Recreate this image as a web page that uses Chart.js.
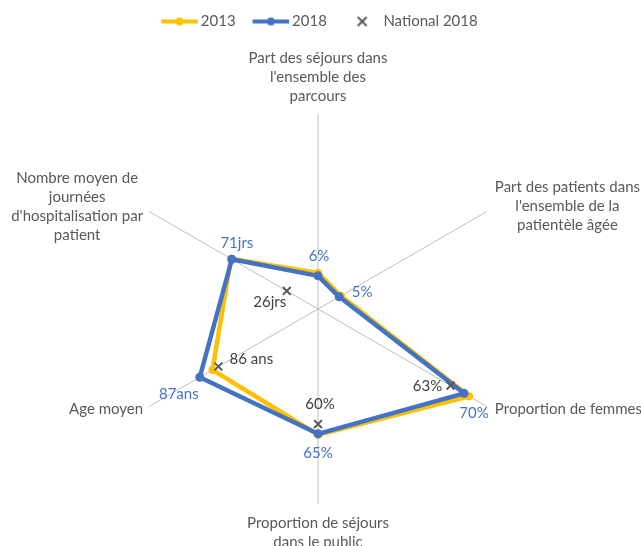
<!DOCTYPE html>
<html lang="fr">
<head>
<meta charset="utf-8">
<title>Radar 2013 / 2018</title>
<script src="https://cdn.jsdelivr.net/npm/chart.js@4.4.1/dist/chart.umd.min.js"></script>
<style>
  html, body { margin: 0; padding: 0; background: #fff; }
  #radarChart { display: block; }
</style>
</head>
<body>
<canvas id="radarChart" width="641" height="546"></canvas>
<script>
// Axes du radar (une entrée par ligne de texte)
var categories = [
    ['Part des séjours dans', "l'ensemble des", 'parcours'],
    ['Part des patients dans', "l'ensemble de la", 'patientèle âgée'],
    ['Proportion de femmes'],
    ['Proportion de séjours', 'dans le public'],
    ['Age moyen'],
    ['Nombre moyen de', 'journées', "d'hospitalisation par", 'patient']
];

// Valeurs ramenées sur une échelle 0-100
var valeurs2013 = [18.5, 13.5, 89.5, 64.5, 62.5, 51.5];
var valeurs2018 = [17, 12.5, 86.5, 64, 70, 51];
var valeursNational2018 = [null, null, 78.5, 59, 59, 18.5];

// Étiquettes affichées à côté des points
var etiquettes2018 = ['6%', '5%', '70%', '65%', '87ans', '71jrs'];
var etiquettesNational2018 = [null, null, '63%', '60%', '86 ans', '26jrs'];

// Décalage (px) de chaque étiquette par rapport à son point
var decalages2018 = [[1, -20], [23, -5], [10, 20], [0, 19], [-21, 17], [5, -16]];
var decalagesNational = [null, null, [-23, 1], [2, -20], [33, -7], [-17, 11]];

var POLICE = 'Lato';
var GRIS_TEXTE = '#595959';

// Petites icônes de légende (trait + point, ou croix)
function creerIcone(type, couleur) {
    var c = document.createElement('canvas');
    c.width = 50;
    c.height = 16;
    var g = c.getContext('2d');
    g.strokeStyle = couleur;
    g.fillStyle = couleur;
    var milieu = 28.75;
    if (type === 'ligne') {
        g.lineWidth = 4;
        g.beginPath();
        g.moveTo(10.5, 8);
        g.lineTo(47, 8);
        g.stroke();
        g.beginPath();
        g.arc(milieu, 8, 4, 0, Math.PI * 2);
        g.fill();
    } else {
        g.lineWidth = 2;
        g.beginPath();
        g.moveTo(milieu - 4.5, 3.5);
        g.lineTo(milieu + 4.5, 12.5);
        g.moveTo(milieu + 4.5, 3.5);
        g.lineTo(milieu - 4.5, 12.5);
        g.stroke();
    }
    return c;
}
var icones = [creerIcone('ligne', '#FFC000'), creerIcone('ligne', '#4472C4'), creerIcone('croix', GRIS_TEXTE)];

// Titres des axes, placés au bout de chaque rayon
var titresAxes = {
    id: 'titresAxes',
    afterDraw: function(chart) {
        var scale = chart.scales.r;
        var ctx = chart.ctx;
        var lh = 19;
        ctx.save();
        ctx.font = '15px ' + POLICE;
        ctx.fillStyle = GRIS_TEXTE;
        ctx.textAlign = 'center';
        ctx.textBaseline = 'middle';
        categories.forEach(function(lignes, i) {
            var bout = scale.getPointPosition(i, scale.drawingArea);
            var angle = Math.round(scale.getIndexAngle(i) * 180 / Math.PI) % 360;
            var largeur = Math.max.apply(null, lignes.map(function(t) { return ctx.measureText(t).width; }));
            var hauteur = (lignes.length - 1) * lh;
            var cx, y0;
            if (angle === 0) {
                cx = bout.x;
                y0 = bout.y - 18 - hauteur;
            } else if (angle === 180) {
                cx = bout.x;
                y0 = bout.y + 19;
            } else {
                var milieuY = bout.y + (lignes.length > 1 ? -5 : 3);
                y0 = milieuY - hauteur / 2;
                cx = angle < 180 ? bout.x + 8 + largeur / 2 : bout.x - 6 - largeur / 2;
            }
            lignes.forEach(function(t, k) {
                ctx.fillText(t, cx, y0 + k * lh);
            });
        });
        ctx.restore();
    }
};

// Étiquettes de valeurs (2018 en bleu, national en gris foncé)
var jeuxEtiquettes = {
    1: { textes: etiquettes2018, decalages: decalages2018, couleur: '#4472C4' },
    2: { textes: etiquettesNational2018, decalages: decalagesNational, couleur: '#404040' }
};
var etiquettesValeurs = {
    id: 'etiquettesValeurs',
    afterDatasetsDraw: function(chart) {
        var ctx = chart.ctx;
        ctx.save();
        ctx.font = '15px ' + POLICE;
        ctx.textAlign = 'center';
        ctx.textBaseline = 'middle';
        Object.keys(jeuxEtiquettes).forEach(function(idx) {
            var jeu = jeuxEtiquettes[idx];
            var meta = chart.getDatasetMeta(Number(idx));
            meta.data.forEach(function(pt, j) {
                var txt = jeu.textes[j];
                if (!txt) return;
                var d = jeu.decalages[j];
                ctx.fillStyle = jeu.couleur;
                ctx.fillText(txt, pt.x + d[0], pt.y + d[1]);
            });
        });
        ctx.restore();
    }
};

document.addEventListener('DOMContentLoaded', function() {
    var chartElement = document.getElementById('radarChart');
    Chart.defaults.font.family = POLICE;

    new Chart(chartElement.getContext('2d'), {
        type: 'radar',
        data: {
            labels: categories,
            datasets: [{
                label: '2013',
                data: valeurs2013,
                borderColor: '#FFC000',
                backgroundColor: '#FFC000',
                pointBackgroundColor: '#FFC000',
                borderWidth: 4.5,
                pointRadius: 4,
                pointBorderWidth: 0,
                fill: false,
                order: 2
            }, {
                label: '2018',
                data: valeurs2018,
                borderColor: '#4472C4',
                backgroundColor: '#4472C4',
                pointBackgroundColor: '#4472C4',
                borderWidth: 4.5,
                pointRadius: 4.5,
                pointBorderWidth: 0,
                fill: false,
                order: 1
            }, {
                label: 'National 2018',
                data: valeursNational2018,
                showLine: false,
                borderColor: 'transparent',
                backgroundColor: 'transparent',
                pointStyle: 'crossRot',
                pointRadius: 5.5,
                pointBorderWidth: 2,
                pointBorderColor: GRIS_TEXTE,
                fill: false,
                order: 0
            }]
        },
        options: {
            responsive: false,
            devicePixelRatio: 1,
            animation: false,
            layout: {
                padding: { left: 123, right: 128, top: 0, bottom: 0 }
            },
            elements: {
                line: { tension: 0, borderJoinStyle: 'round' }
            },
            scales: {
                r: {
                    min: 0,
                    max: 100,
                    ticks: { display: false },
                    grid: { display: false },
                    angleLines: { color: '#BFBFBF', lineWidth: 1 },
                    pointLabels: { display: false },
                    // le centre du radar est un peu plus bas que le milieu de la zone
                    afterFit: function(scale) {
                        scale.yCenter += 17;
                    }
                }
            },
            plugins: {
                tooltip: { enabled: false },
                legend: {
                    position: 'top',
                    labels: {
                        usePointStyle: true,
                        pointStyleWidth: 35,
                        padding: 14,
                        color: GRIS_TEXTE,
                        font: { size: 15, family: POLICE },
                        sort: function(a, b) { return a.datasetIndex - b.datasetIndex; },
                        generateLabels: function(chart) {
                            var items = Chart.defaults.plugins.legend.labels.generateLabels(chart);
                            items.forEach(function(item) {
                                item.pointStyle = icones[item.datasetIndex];
                            });
                            return items;
                        }
                    }
                }
            }
        },
        plugins: [titresAxes, etiquettesValeurs]
    });
});
</script>
</body>
</html>
